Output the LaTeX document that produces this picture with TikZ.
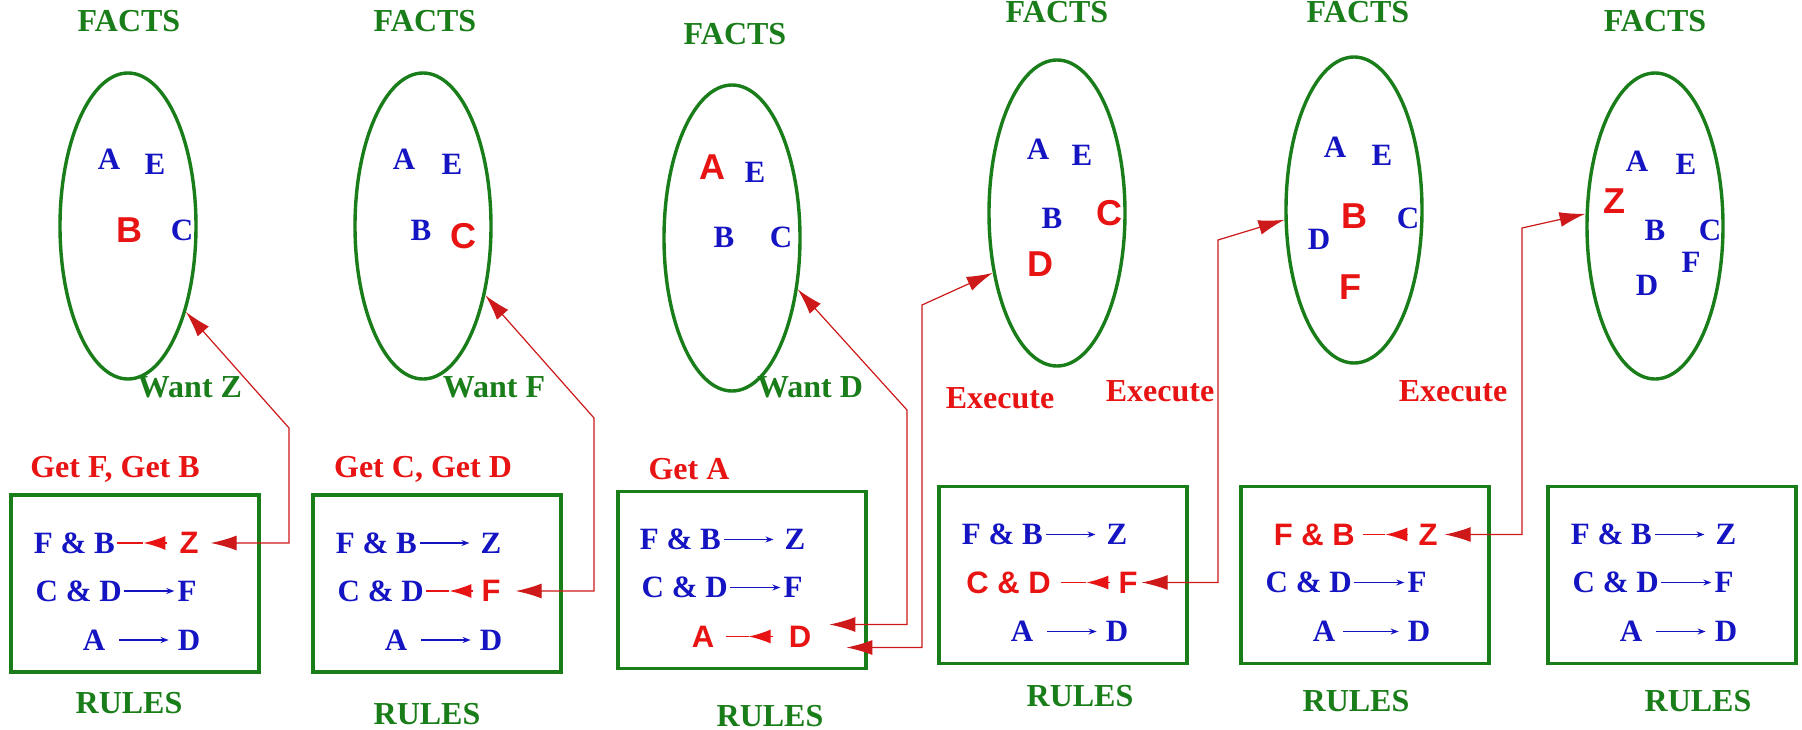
\documentclass[tikz,border=0pt]{standalone}
\usepackage{fontspec}
\setmainfont{Liberation Serif}
\setsansfont{Liberation Sans}
\usetikzlibrary{shapes.geometric,arrows.meta,calc}
\definecolor{fgreen}{RGB}{25,125,25}
\definecolor{fblue}{RGB}{20,20,195}
\definecolor{fred}{RGB}{232,20,20}
\definecolor{lred}{RGB}{205,25,25}
\begin{document}
\begin{tikzpicture}[x=1pt,y=-1pt,
  lbl/.style={font=\fontsize{32}{34}\selectfont\bfseries, inner sep=0pt},
  glbl/.style={lbl, text=fgreen},
  rlbl/.style={lbl, text=fred},
  bl/.style={font=\fontsize{31}{32}\selectfont\bfseries, text=fblue, inner sep=0pt},
  rs/.style={font=\fontsize{36}{38}\selectfont\sffamily\bfseries, text=fred, inner sep=0pt},
  rsr/.style={font=\fontsize{31}{33}\selectfont\sffamily\bfseries, text=fred, inner sep=0pt},
  fellipse/.style={ellipse, draw=fgreen, line width=3.4pt, minimum width=136pt, minimum height=306pt, inner sep=0pt},
  rbox/.style={rectangle, draw=fgreen, line width=3.4pt, minimum width=248pt, minimum height=177pt, inner sep=0pt},
  barrow/.style={fblue, line width=1.5pt, -{Stealth[length=8pt,width=6pt]}},
  rline/.style={fred, line width=1.6pt},
  rhead/.style={fred, line width=1.6pt, -{Latex[length=22pt,width=14pt]}},
  conn/.style={lred, line width=1.2pt, {Latex[length=26pt,width=15pt]}-{Latex[length=26pt,width=15pt]}}
]
\fill[white] (0,0) rectangle (1802,730);
\useasboundingbox (0,0) rectangle (1802,730);

% ---------------- FACTS ellipses ----------------
\node[fellipse] (e1) at (128,226) {};
\node[fellipse] (e2) at (423,226) {};
\node[fellipse] (e3) at (732,238) {};
\node[fellipse] (e4) at (1057,213) {};
\node[fellipse] (e5) at (1354,210) {};
\node[fellipse] (e6) at (1655,226) {};

\node[glbl] (f1) at (129,21) {FACTS};
\node[glbl] (f2) at (425,21) {FACTS};
\node[glbl] (f3) at (735,34) {FACTS};
\node[glbl] (f4) at (1057,12) {FACTS};
\node[glbl] (f5) at (1358,12) {FACTS};
\node[glbl] (f6) at (1655,21) {FACTS};

% panel 1 facts
\node[bl] (p1a) at (109,159) {A};
\node[bl] (p1e) at (155,164) {E};
\node[rs] (p1b) at (129,230) {B};
\node[bl] (p1c) at (182,230) {C};
% panel 2 facts
\node[bl] (p2a) at (404,159) {A};
\node[bl] (p2e) at (452,164) {E};
\node[bl] (p2b) at (421,230) {B};
\node[rs] (p2c) at (463,236) {C};
% panel 3 facts
\node[rs] (p3a) at (712,167) {A};
\node[bl] (p3e) at (755,172) {E};
\node[bl] (p3b) at (724,237) {B};
\node[bl] (p3c) at (781,237) {C};
% panel 4 facts
\node[bl] (p4a) at (1038,149) {A};
\node[bl] (p4e) at (1082,155) {E};
\node[bl] (p4b) at (1052,218) {B};
\node[rs] (p4c) at (1109,213) {C};
\node[rs] (p4d) at (1040,264) {D};
% panel 5 facts
\node[bl] (p5a) at (1335,147) {A};
\node[bl] (p5e) at (1382,155) {E};
\node[bl] (p5d) at (1319,239) {D};
\node[rs] (p5b) at (1354,216) {B};
\node[bl] (p5c) at (1408,218) {C};
\node[rs] (p5f) at (1350,287) {F};
% panel 6 facts
\node[bl] (p6a) at (1637,161) {A};
\node[bl] (p6e) at (1686,164) {E};
\node[rs] (p6z) at (1614,201) {Z};
\node[bl] (p6b) at (1655,230) {B};
\node[bl] (p6c) at (1710,230) {C};
\node[bl] (p6f) at (1691,262) {F};
\node[bl] (p6d) at (1647,285) {D};

% ---------------- labels ----------------
\node[glbl] (w1) at (190,387) {Want Z};
\node[glbl] (w2) at (494,387) {Want F};
\node[glbl] (w3) at (810,387) {Want D};
\node[rlbl] (x1) at (1000,398) {Execute};
\node[rlbl] (x2) at (1160,391) {Execute};
\node[rlbl] (x3) at (1453,391) {Execute};
\node[rlbl] (g1) at (115,469) {Get F, Get B};
\node[rlbl] (g2) at (423,469) {Get C, Get D};
\node[rlbl] (g3) at (689,469) {Get A};

\node[glbl] (u1) at (129,703) {RULES};
\node[glbl] (u2) at (427,714) {RULES};
\node[glbl] (u3) at (770,716) {RULES};
\node[glbl] (u4) at (1080,696) {RULES};
\node[glbl] (u5) at (1356,701) {RULES};
\node[glbl] (u6) at (1698,701) {RULES};

% ---------------- RULES boxes ----------------
\node[rbox] (box1) at (135,583.5) {};
\node[rbox] (box2) at (437,583.5) {};
\node[rbox] (box3) at (742,580) {};
\node[rbox] (box4) at (1063,575) {};
\node[rbox] (box5) at (1365,575) {};
\node[rbox] (box6) at (1672,575) {};

% box 1
\begin{scope}[shift={(11,495)}]
\node[bl, anchor=east] (r1a) at (104,48) {F \& B};
\node[rsr] (r1b) at (178,48) {Z};
\node[bl, anchor=east] (r1c) at (111,96) {C \& D};
\node[bl] (r1d) at (176,96) {F};
\node[bl] (r1e) at (83,145) {A};
\node[bl] (r1f) at (178,145) {D};
\end{scope}
\draw[rline] ([xshift=2pt]r1a.east) -- ([xshift=-36pt]r1b.west);
\draw[rhead] ([xshift=-12pt]r1b.west) -- ([xshift=-36pt]r1b.west);
\draw[barrow] ([xshift=2pt]r1c.east) -- ([xshift=-3pt]r1d.west);
\draw[barrow] ([xshift=14pt]r1e.east) -- ([xshift=-9pt]r1f.west);

% box 2
\begin{scope}[shift={(313,495)}]
\node[bl, anchor=east] (r2a) at (104,48) {F \& B};
\node[bl] (r2b) at (178,48) {Z};
\node[bl, anchor=east] (r2c) at (111,96) {C \& D};
\node[rsr] (r2d) at (178,96) {F};
\node[bl] (r2e) at (83,145) {A};
\node[bl] (r2f) at (178,145) {D};
\end{scope}
\draw[barrow] ([xshift=3pt]r2a.east) -- ([xshift=-11pt]r2b.west);
\draw[rline] ([xshift=2pt]r2c.east) -- ([xshift=-32pt]r2d.west);
\draw[rhead] ([xshift=-8pt]r2d.west) -- ([xshift=-32pt]r2d.west);
\draw[barrow] ([xshift=14pt]r2e.east) -- ([xshift=-9pt]r2f.west);

% box 3
\begin{scope}[shift={(617,491.5)}]
\node[bl, anchor=east] (r3a) at (104,48) {F \& B};
\node[bl] (r3b) at (178,48) {Z};
\node[bl, anchor=east] (r3c) at (111,96) {C \& D};
\node[bl] (r3d) at (176,96) {F};
\node[rsr] (r3e) at (86,145) {A};
\node[rsr] (r3f) at (183,145) {D};
\end{scope}
\draw[barrow] ([xshift=3pt]r3a.east) -- ([xshift=-11pt]r3b.west);
\draw[barrow] ([xshift=2pt]r3c.east) -- ([xshift=-3pt]r3d.west);
\draw[rline] ([xshift=12pt]r3e.east) -- ([xshift=-40pt]r3f.west);
\draw[rhead] ([xshift=-16pt]r3f.west) -- ([xshift=-40pt]r3f.west);

% box 4
\begin{scope}[shift={(939,486.5)}]
\node[bl, anchor=east] (r4a) at (104,48) {F \& B};
\node[bl] (r4b) at (178,48) {Z};
\node[rsr, anchor=east] (r4c) at (112,96) {C \& D};
\node[rsr] (r4d) at (189,96) {F};
\node[bl] (r4e) at (83,145) {A};
\node[bl] (r4f) at (178,145) {D};
\end{scope}
\draw[barrow] ([xshift=3pt]r4a.east) -- ([xshift=-11pt]r4b.west);
\draw[rline] ([xshift=10pt]r4c.east) -- ([xshift=-32pt]r4d.west);
\draw[rhead] ([xshift=-8pt]r4d.west) -- ([xshift=-32pt]r4d.west);
\draw[barrow] ([xshift=14pt]r4e.east) -- ([xshift=-9pt]r4f.west);

% box 5
\begin{scope}[shift={(1241,486.5)}]
\node[rsr, anchor=east] (r5a) at (114,48) {F \& B};
\node[rsr] (r5b) at (187,48) {Z};
\node[bl, anchor=east] (r5c) at (111,96) {C \& D};
\node[bl] (r5d) at (176,96) {F};
\node[bl] (r5e) at (83,145) {A};
\node[bl] (r5f) at (178,145) {D};
\end{scope}
\draw[rline] ([xshift=8pt]r5a.east) -- ([xshift=-33pt]r5b.west);
\draw[rhead] ([xshift=-10pt]r5b.west) -- ([xshift=-33pt]r5b.west);
\draw[barrow] ([xshift=2pt]r5c.east) -- ([xshift=-3pt]r5d.west);
\draw[barrow] ([xshift=8pt]r5e.east) -- ([xshift=-9pt]r5f.west);

% box 6
\begin{scope}[shift={(1548,486.5)}]
\node[bl, anchor=east] (r6a) at (104,48) {F \& B};
\node[bl] (r6b) at (178,48) {Z};
\node[bl, anchor=east] (r6c) at (111,96) {C \& D};
\node[bl] (r6d) at (176,96) {F};
\node[bl] (r6e) at (83,145) {A};
\node[bl] (r6f) at (178,145) {D};
\end{scope}
\draw[barrow] ([xshift=3pt]r6a.east) -- ([xshift=-11pt]r6b.west);
\draw[barrow] ([xshift=2pt]r6c.east) -- ([xshift=-3pt]r6d.west);
\draw[barrow] ([xshift=14pt]r6e.east) -- ([xshift=-9pt]r6f.west);

% ---------------- connectors ----------------
\coordinate (k1) at (289,428);
\coordinate (k2) at (594,418);
\coordinate (k3) at (907,410);
\coordinate (k4) at (922,305);
\coordinate (k5) at (1218,240);
\coordinate (k6) at (1522,228);

\draw[conn] ([xshift=12pt]r1b.east) -| (k1) -- (e1.-56);
\draw[conn] ([xshift=15pt]r2d.east) -| (k2) -- (e2.-48);
\draw[conn] ([xshift=18pt,yshift=12pt]r3f.east) -| (k3) -- (e3.-38);
\draw[conn] ([xshift=35pt,yshift=-11pt]r3f.east) -| (k4) -- (e4.-137);
\draw[conn] ([xshift=4pt]r4d.east) -| (k5) -- (e5.-172);
\draw[conn] ([xshift=7pt]r5b.east) -| (k6) -- (e6.170);
\end{tikzpicture}
\end{document}
